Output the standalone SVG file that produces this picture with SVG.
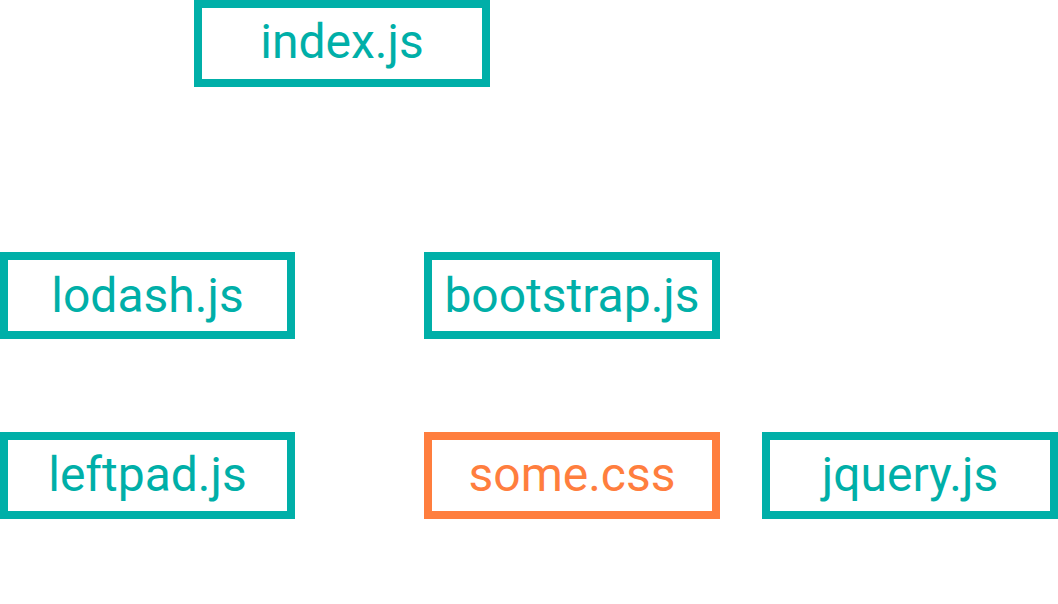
<svg xmlns="http://www.w3.org/2000/svg" width="1058" height="604" viewBox="0 0 1058 604">
  <style>
    .box { fill: #ffffff; stroke-width: 8; }
    .js rect { stroke: #00AFA8; }
    .js text { fill: #00AFA8; }
    .css rect { stroke: #FF7E3E; }
    .css text { fill: #FF7E3E; }
    text { font-family: Roboto, "Liberation Sans", sans-serif; font-size: 48px; text-anchor: middle; }
  </style>
  <rect width="1058" height="604" fill="#ffffff"/>
  <g id="connectors"></g>
  <g id="index" class="js">
    <rect class="box" x="198" y="4" width="288" height="79"/>
    <text x="342" y="58">index.js</text>
  </g>
  <g id="lodash" class="js">
    <rect class="box" x="4" y="256" width="287" height="79"/>
    <text x="147.5" y="312">lodash.js</text>
  </g>
  <g id="bootstrap" class="js">
    <rect class="box" x="428" y="256" width="288" height="79"/>
    <text x="572" y="312">bootstrap.js</text>
  </g>
  <g id="leftpad" class="js">
    <rect class="box" x="4" y="436" width="287" height="79"/>
    <text x="147.5" y="491">leftpad.js</text>
  </g>
  <g id="somecss" class="css">
    <rect class="box" x="428" y="436" width="288" height="79"/>
    <text x="572" y="491">some.css</text>
  </g>
  <g id="jquery" class="js">
    <rect class="box" x="766" y="436" width="288" height="79"/>
    <text x="910" y="491">jquery.js</text>
  </g>
</svg>
